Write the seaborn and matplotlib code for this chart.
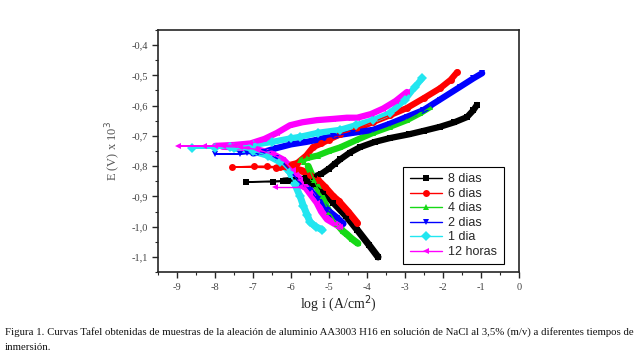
import matplotlib
matplotlib.use("Agg")
import matplotlib.pyplot as plt
import seaborn as sns
from matplotlib.ticker import MultipleLocator

sns.set_style("ticks")
plt.rcParams["font.family"] = ["Liberation Serif", "DejaVu Serif"]
plt.rcParams["axes.unicode_minus"] = False

# each series: cathodic branch -> sparse points near Ecorr -> anodic branch
# 8 dias
d8_cat_x = [-3.71, -3.95, -4.26, -4.55, -4.89, -5.15, -5.4, -5.58, -5.8]
d8_cat_y = [-1.10, -1.06, -1.01, -0.965, -0.92, -0.885, -0.86, -0.848, -0.848]
d8_ecorr_x = [-6.08, -6.47, -7.18]
d8_ecorr_y = [-0.85, -0.852, -0.852]
d8_an_x = [-6.2, -5.9, -5.6, -5.4, -5.2, -5.0, -4.85, -4.71, -4.45, -4.18, -3.8,
           -3.39, -2.9, -2.5, -2.08, -1.7, -1.37, -1.2, -1.11]
d8_an_y = [-0.848, -0.845, -0.84, -0.835, -0.825, -0.808, -0.792, -0.778, -0.755,
           -0.737, -0.72, -0.707, -0.695, -0.683, -0.67, -0.655, -0.638, -0.615, -0.598]

# 6 dias
d6_cat_x = [-4.26, -4.5, -4.75, -4.89, -5.1, -5.3, -5.5, -5.7, -5.9, -6.1]
d6_cat_y = [-0.987, -0.95, -0.915, -0.90, -0.87, -0.845, -0.83, -0.815, -0.808, -0.803]
d6_ecorr_x = [-6.3, -6.63, -6.97, -7.55]
d6_ecorr_y = [-0.803, -0.80, -0.80, -0.803]
d6_an_x = [-6.4, -6.2, -6.0, -5.84, -5.6, -5.42, -5.2, -5.0, -4.71, -4.3, -3.84,
           -3.4, -2.95, -2.5, -2.08, -1.8, -1.63]
d6_an_y = [-0.805, -0.80, -0.795, -0.79, -0.765, -0.737, -0.725, -0.712, -0.695,
           -0.678, -0.654, -0.632, -0.608, -0.575, -0.543, -0.515, -0.49]

# 4 dias
d4_cat_x = [-4.24, -4.4, -4.53, -4.63, -4.8, -5.0, -5.2, -5.4, -5.55]
d4_cat_y = [-1.055, -1.04, -1.025, -1.015, -0.99, -0.95, -0.9, -0.845, -0.80]
d4_ecorr_x = [-5.65, -5.76]
d4_ecorr_y = [-0.785, -0.78]
d4_an_x = [-5.7, -5.58, -5.3, -5.0, -4.71, -4.3, -3.84, -3.4, -2.95, -2.6, -2.34]
d4_an_y = [-0.78, -0.773, -0.765, -0.75, -0.738, -0.715, -0.69, -0.67, -0.648, -0.625, -0.605]

# 2 dias
d2_cat_x = [-4.63, -4.8, -5.05, -5.3, -5.5, -5.76, -6.0, -6.2, -6.4, -6.6]
d2_cat_y = [-0.99, -0.97, -0.945, -0.91, -0.88, -0.855, -0.82, -0.79, -0.772, -0.762]
d2_ecorr_x = [-6.87, -7.16, -7.34, -8.0]
d2_ecorr_y = [-0.758, -0.758, -0.76, -0.76]
d2_an_x = [-7.0, -6.7, -6.37, -6.0, -5.6, -5.32, -4.9, -4.37, -3.84, -3.4, -2.95,
           -2.52, -2.08, -1.55, -1.2, -0.97]
d2_an_y = [-0.758, -0.752, -0.74, -0.728, -0.72, -0.713, -0.70, -0.69, -0.68, -0.66,
           -0.637, -0.615, -0.58, -0.538, -0.51, -0.493]

# 1 dia
d1_cat_x = [-5.18, -5.35, -5.5, -5.58, -5.68, -5.76, -5.9, -6.03, -6.3, -6.6, -7.0, -7.5]
d1_cat_y = [-1.01, -1.0, -0.985, -0.96, -0.93, -0.90, -0.86, -0.82, -0.785, -0.765, -0.75, -0.74]
d1_ecorr_x = [-8.0, -8.6]
d1_ecorr_y = [-0.74, -0.74]
d1_an_x = [-7.6, -7.0, -6.5, -6.0, -5.76, -5.3, -4.71, -4.3, -3.84, -3.4, -3.0, -2.75, -2.55]
d1_an_y = [-0.738, -0.73, -0.72, -0.708, -0.703, -0.69, -0.68, -0.665, -0.648, -0.625,
           -0.58, -0.54, -0.51]

# 12 horas
h12_cat_x = [-4.71, -4.85, -5.05, -5.2, -5.32, -5.5, -5.76, -5.95, -6.2, -6.5, -6.9, -7.34, -7.8]
h12_cat_y = [-1.0, -0.99, -0.975, -0.95, -0.92, -0.89, -0.846, -0.813, -0.78, -0.76,
             -0.745, -0.737, -0.735]
h12_ecorr_x = [-8.3, -8.97]
h12_ecorr_y = [-0.733, -0.733]
h12_an_x = [-8.0, -7.5, -7.07, -6.7, -6.37, -6.03, -5.7, -5.32, -4.9, -4.53, -4.26,
            -3.9, -3.58, -3.25, -2.95]
h12_an_y = [-0.733, -0.73, -0.725, -0.71, -0.69, -0.665, -0.655, -0.648, -0.644, -0.64,
            -0.64, -0.628, -0.61, -0.585, -0.555]
h12_extra_x = [-6.42, -5.76]
h12_extra_y = [-0.869, -0.869]

labels = ["8 dias", "6 dias", "4 dias", "2 dias", "1 dia", "12 horas"]
colors = ["#000000", "#ff0000", "#16d916", "#0000ff", "#22e6f0", "#ff00ff"]
markers = ["s", "o", "^", "v", "D", "<"]

x_ticks = [-9, -8, -7, -6, -5, -4, -3, -2, -1, 0]
y_ticks = [-0.4, -0.5, -0.6, -0.7, -0.8, -0.9, -1.0, -1.1]
y_ticklabels = ["-0,4", "-0,5", "-0,6", "-0,7", "-0,8", "-0,9", "-1,0", "-1,1"]

series = [
    (d8_cat_x, d8_cat_y, d8_ecorr_x, d8_ecorr_y, d8_an_x, d8_an_y),
    (d6_cat_x, d6_cat_y, d6_ecorr_x, d6_ecorr_y, d6_an_x, d6_an_y),
    (d4_cat_x, d4_cat_y, d4_ecorr_x, d4_ecorr_y, d4_an_x, d4_an_y),
    (d2_cat_x, d2_cat_y, d2_ecorr_x, d2_ecorr_y, d2_an_x, d2_an_y),
    (d1_cat_x, d1_cat_y, d1_ecorr_x, d1_ecorr_y, d1_an_x, d1_an_y),
    (h12_cat_x, h12_cat_y, h12_ecorr_x, h12_ecorr_y, h12_an_x, h12_an_y),
]

fig = plt.figure(figsize=(6.4, 3.6), dpi=100)
ax = fig.add_axes([0.247, 0.244, 0.564, 0.673])

for (cx, cy, ex, ey, axx, ay), lab, col, mk in zip(series, labels, colors, markers):
    # thick band for the densely sampled branches
    ax.plot(cx, cy, color=col, lw=5, solid_capstyle="round", zorder=2)
    ax.plot(axx, ay, color=col, lw=4.5, solid_capstyle="round", zorder=2)
    sns.lineplot(x=cx + ex + axx, y=cy + ey + ay, sort=False, estimator=None, ax=ax,
                 color=col, marker=mk, markersize=5, markeredgewidth=0, lw=1,
                 label=lab, zorder=3)

ax.plot(h12_extra_x, h12_extra_y, color=colors[5], lw=1, marker="<", markersize=5,
        markeredgewidth=0, zorder=3)

ax.set_xlim(-9.5, 0)
ax.set_ylim(-1.15, -0.35)
ax.set_xticks(x_ticks)
ax.set_xticklabels([str(t) for t in x_ticks])
ax.set_yticks(y_ticks)
ax.set_yticklabels(y_ticklabels)
ax.xaxis.set_minor_locator(MultipleLocator(0.5))
ax.yaxis.set_minor_locator(MultipleLocator(0.05))
ax.tick_params(which="major", direction="out", length=4, width=1, labelsize=7.5,
               labelcolor="#444444", top=False, right=False)
ax.tick_params(which="minor", direction="out", length=2, width=0.8, top=False, right=False)
for s in ax.spines.values():
    s.set_linewidth(1.2)

ax.set_xlabel("log i (A/cm$^2$)", fontsize=10, color="#222222", labelpad=1)
ax.set_ylabel("E (V) x 10$^3$", fontsize=9, color="#555555", labelpad=6)

leg = ax.legend(loc="upper left", bbox_to_anchor=(0.662, 0.459), frameon=True,
                fancybox=False, edgecolor="black", framealpha=1, handlelength=2.6,
                prop={"family": "Liberation Sans", "size": 9}, labelspacing=0.2,
                borderpad=0.5, handletextpad=0.5)
leg.get_frame().set_linewidth(0.8)

fig.text(0.008, 0.058,
         "Figura 1. Curvas Tafel obtenidas de muestras de la aleación de aluminio AA3003 H16 "
         "en solución de NaCl al 3,5% (m/v) a diferentes tiempos de\ninmersión.",
         fontsize=7.75, va="center", ha="left", color="#111111", linespacing=1.85)

fig.savefig("out.png", dpi=100)
